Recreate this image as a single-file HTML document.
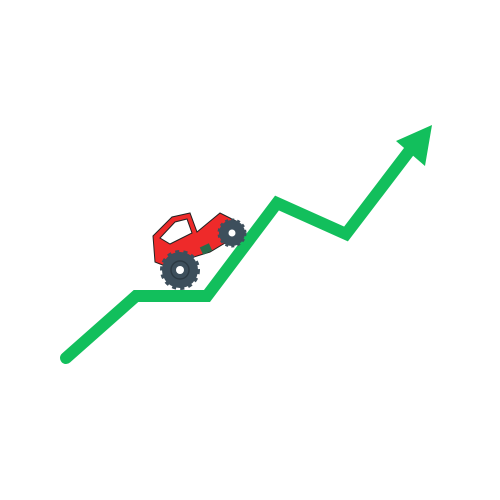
<!DOCTYPE html>
<html><head><style>html,body{margin:0;padding:0;background:#fff;}svg{display:block}</style></head>
<body>
<svg width="500" height="500" viewBox="0 0 500 500">
<script>
// path of the growth line: [x, y] data points (image space)
</script>
<polyline points="66,358 136,296 207,296 277,203 346,234 410,150" fill="none" stroke="#12bf5c" stroke-width="12" stroke-linejoin="miter" stroke-linecap="round"/>
<polygon points="432,125 425,166 396,141" fill="#12bf5c"/>
<g>
  <polygon points="153,236 172,217 190,213 197,232 220,213 238,222 230,240 210,252 165,266 155,262" fill="#ee2a2a" stroke="#222" stroke-width="1"/>
  <polygon points="160,238 175,222 187,219 192,233 170,244" fill="#fff" stroke="#222" stroke-width="1"/>
  <rect x="201" y="245" width="10" height="8" fill="#2a6a4a" transform="rotate(-25 206 249)"/>
  <g>
    <circle cx="232" cy="233" r="13" fill="#3d4f5c" stroke="#3d4f5c" stroke-width="3" stroke-dasharray="3 3"/>
    <circle cx="232" cy="233" r="3.5" fill="#fff"/>
  </g>
  <g>
    <circle cx="180" cy="270" r="18" fill="#3d4f5c" stroke="#3d4f5c" stroke-width="4" stroke-dasharray="4 4"/>
    <circle cx="180" cy="270" r="9" fill="none" stroke="#2c3a44" stroke-width="1.5"/>
    <circle cx="180" cy="270" r="4" fill="#fff"/>
  </g>
</g>
</svg>
</body></html>
